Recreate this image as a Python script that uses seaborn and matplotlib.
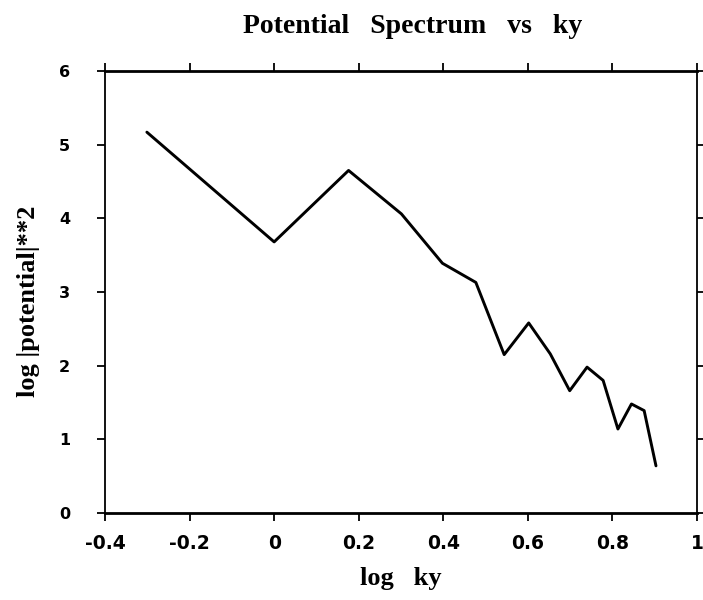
import numpy as np
import pandas as pd
import matplotlib
matplotlib.use("Agg")
import matplotlib.pyplot as plt
import seaborn as sns

log_ky = [-0.301, 0.0, 0.176, 0.301, 0.398, 0.477, 0.544, 0.602, 0.653,
          0.699, 0.740, 0.778, 0.813, 0.845, 0.875, 0.903]
log_pot2 = [5.17, 3.68, 4.65, 4.06, 3.39, 3.13, 2.15, 2.58, 2.16,
            1.66, 1.98, 1.80, 1.14, 1.48, 1.39, 0.64]
x_ticks = [-0.4, -0.2, 0, 0.2, 0.4, 0.6, 0.8, 1]
x_labels = ["-0.4", "-0.2", "0", "0.2", "0.4", "0.6", "0.8", "1"]
y_ticks = [0, 1, 2, 3, 4, 5, 6]

sns.set_style("ticks", {"text.color": "black", "axes.labelcolor": "black",
                        "xtick.color": "black", "ytick.color": "black",
                        "axes.edgecolor": "black"})
df = pd.DataFrame({"log ky": log_ky, "val": log_pot2})

fig = plt.figure(figsize=(7.03, 6.0), dpi=100)
ax = fig.add_axes([105/703, 1 - 513/600, (697-105)/703, (513-71)/600])
sns.lineplot(data=df, x="log ky", y="val", ax=ax, color="black",
             linewidth=2.1, sort=False)
ax.set_xlim(-0.4, 1.0)
ax.set_ylim(0, 6)
ax.set_xticks(x_ticks)
ax.set_xticklabels(x_labels)
ax.set_yticks(y_ticks)

for s in ["top", "bottom", "left", "right"]:
    ax.spines[s].set_visible(True)
    ax.spines[s].set_color("black")
ax.spines["top"].set_linewidth(2.0)
ax.spines["bottom"].set_linewidth(2.0)
ax.spines["left"].set_linewidth(1.3)
ax.spines["right"].set_linewidth(1.3)

ax.tick_params(axis="both", direction="out", width=1.3,
               colors="black", top=True, right=True, labeltop=False,
               labelright=False)
ax.tick_params(axis="x", length=6, pad=9)
ax.tick_params(axis="y", length=6, pad=19)
for lab in ax.get_xticklabels():
    lab.set_fontfamily("DejaVu Sans")
    lab.set_fontweight("bold")
    lab.set_fontsize(13.5)
for lab in ax.get_yticklabels():
    lab.set_fontfamily("DejaVu Sans")
    lab.set_fontweight("bold")
    lab.set_fontsize(11.5)

ax.set_xlabel("log   ky", fontfamily="Liberation Serif", fontweight="bold",
              fontsize=19, labelpad=10, color="black")
ax.set_ylabel("log |potential|**2", fontfamily="Liberation Serif",
              fontweight="bold", fontsize=19, labelpad=14, color="black")
ax.yaxis.label.set_y(0.48)
fig.text(412.5/703, 1 - 33/600, "Potential   Spectrum   vs   ky",
         fontfamily="Liberation Serif", fontweight="bold", fontsize=20,
         ha="center", va="baseline", color="black")

fig.savefig("out.png", dpi=100)
